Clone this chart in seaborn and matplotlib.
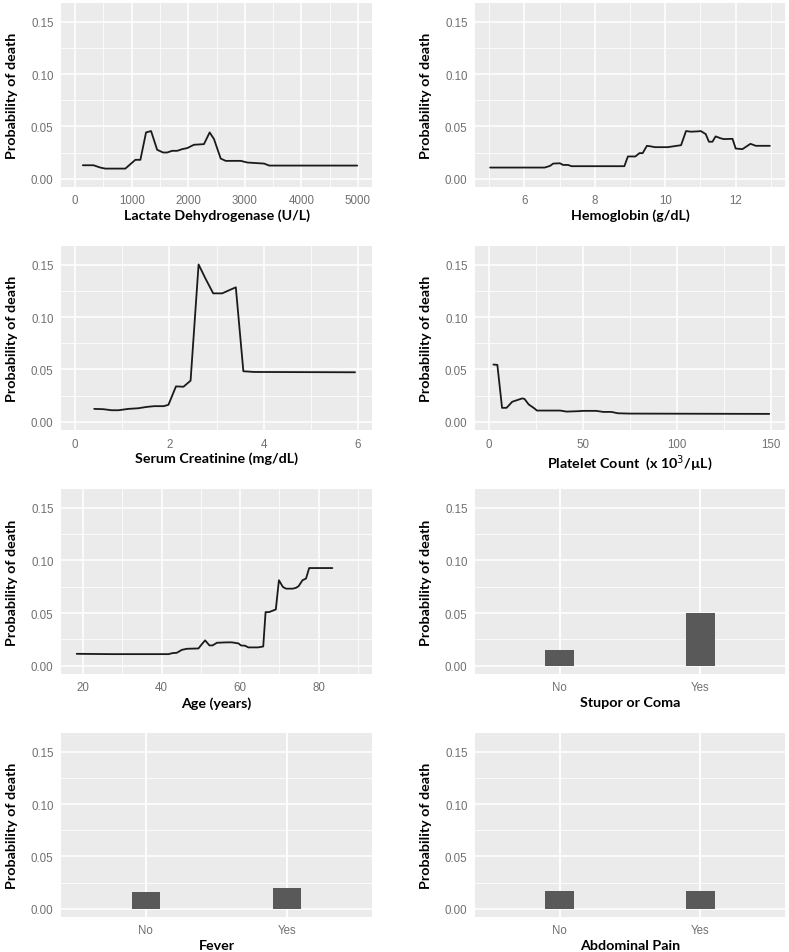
import numpy as np
import pandas as pd
import matplotlib
matplotlib.use("Agg")
import matplotlib.pyplot as plt
import seaborn as sns
from matplotlib.ticker import FixedLocator

# ---------------- data ----------------
ldh_x = [136, 325, 444, 533, 888, 976, 1065, 1154, 1254, 1343, 1450, 1556, 1627, 1716, 1805,
         1893, 1982, 2101, 2278, 2379, 2456, 2574, 2663, 2929, 3047, 3343, 3432, 4988]
ldh_y = [0.0128, 0.0128, 0.0106, 0.0096, 0.0096, 0.0138, 0.0180, 0.0180, 0.0442, 0.0455, 0.0276,
         0.0250, 0.0250, 0.0266, 0.0266, 0.0282, 0.0292, 0.0324, 0.0330, 0.0442, 0.0378, 0.0192,
         0.0170, 0.0170, 0.0154, 0.0144, 0.0125, 0.0125]

hgb_x = [5.03, 6.58, 6.73, 6.82, 7.01, 7.10, 7.24, 7.34, 8.84, 8.94, 9.15, 9.27, 9.36, 9.48, 9.60,
         9.71, 10.07, 10.45, 10.59, 10.73, 10.92, 11.01, 11.15, 11.24, 11.34, 11.43, 11.58, 11.67,
         11.91, 12.00, 12.19, 12.42, 12.57, 12.97]
hgb_y = [0.0106, 0.0106, 0.0122, 0.0144, 0.0147, 0.0131, 0.0131, 0.0119, 0.0119, 0.0212, 0.0212,
         0.0244, 0.0244, 0.0314, 0.0308, 0.0301, 0.0301, 0.0320, 0.0455, 0.0449, 0.0452, 0.0455,
         0.0426, 0.0353, 0.0353, 0.0404, 0.0385, 0.0378, 0.0381, 0.0288, 0.0282, 0.0333, 0.0314,
         0.0314]

crea_x = [0.405, 0.60, 0.775, 0.917, 1.13, 1.34, 1.52, 1.68, 1.88, 1.98, 2.14, 2.30, 2.45, 2.62,
          2.77, 2.93, 3.12, 3.41, 3.57, 3.80, 5.94]
crea_y = [0.0122, 0.0119, 0.0109, 0.0109, 0.0122, 0.0128, 0.0141, 0.0148, 0.0148, 0.0161, 0.0337,
          0.0334, 0.0392, 0.1503, 0.1365, 0.1227, 0.1227, 0.1285, 0.0482, 0.0475, 0.0472]

plt_x = [2.3, 4.4, 6.9, 9.3, 12.3, 17.6, 18.8, 21.1, 23.7, 25.5, 37.8, 41.3, 47.5, 50.1, 57.1,
         60.7, 65.1, 68.6, 74.7, 149.1]
plt_y = [0.0546, 0.0543, 0.0132, 0.0132, 0.0190, 0.0222, 0.0218, 0.0164, 0.0132, 0.0106, 0.0106,
         0.0096, 0.0100, 0.0103, 0.0103, 0.0093, 0.0093, 0.0080, 0.0077, 0.0074]

age_x = [18.4, 27.0, 39.7, 41.8, 42.7, 43.9, 45.2, 46.5, 49.4, 50.3, 51.1, 52.2, 53.0, 54.1, 56.6,
         57.9, 59.6, 60.2, 61.3, 62.1, 64.6, 65.9, 66.5, 67.4, 69.1, 69.9, 70.9, 71.7, 73.4, 74.2,
         74.9, 75.9, 76.8, 77.6, 83.5]
age_y = [0.0112, 0.0109, 0.0109, 0.0109, 0.0118, 0.0122, 0.0150, 0.0160, 0.0163, 0.0205, 0.0240,
         0.0192, 0.0192, 0.0217, 0.0221, 0.0221, 0.0211, 0.0192, 0.0189, 0.0173, 0.0173, 0.0182,
         0.0509, 0.0509, 0.0534, 0.0812, 0.0748, 0.0732, 0.0732, 0.0739, 0.0755, 0.0812, 0.0828,
         0.0928, 0.0928]

categories = ["No", "Yes"]
stupor_vals = [0.0151, 0.0503]
fever_vals = [0.0160, 0.0194]
abd_vals = [0.0165, 0.0165]

y_ticks = [0.00, 0.05, 0.10, 0.15]
y_tick_labels = ["0.00", "0.05", "0.10", "0.15"]
y_label = "Probability of death"

# ---------------- style ----------------
sns.set_style("darkgrid", {"axes.facecolor": "#EBEBEB", "grid.color": "white"})
plt.rcParams["font.family"] = ["Liberation Sans", "DejaVu Sans"]

fig = plt.figure(figsize=(7.89, 9.53), dpi=100)
W, H = 789, 953

def make_ax(px_left, px_top, px_right, px_bottom):
    return fig.add_axes([px_left / W, 1 - px_bottom / H,
                         (px_right - px_left) / W, (px_bottom - px_top) / H])

col_x = [(61, 372), (475, 785)]
row_y = [(4, 188), (247, 431), (490, 675), (734, 918)]

label_font = dict(family=["Lato", "DejaVu Sans"], weight="bold", size=10.3, color="black")

def style_axis(ax, xlabel, major_x=None, minor_x=None, xlim=None, cat=False):
    ax.set_ylim(-0.008, 0.168)
    ax.set_yticks(y_ticks)
    ax.set_yticklabels(y_tick_labels)
    ax.yaxis.set_minor_locator(FixedLocator([0.025, 0.075, 0.125]))
    if cat:
        ax.set_xlim(-0.6, 1.6)
        ax.set_xticks([0, 1])
        ax.set_xticklabels(categories)
        ax.xaxis.set_minor_locator(FixedLocator([]))
    else:
        ax.set_xlim(*xlim)
        ax.set_xticks(major_x)
        ax.set_xticklabels([str(v) for v in major_x])
        ax.xaxis.set_minor_locator(FixedLocator(minor_x))
    ax.set_axisbelow(True)
    ax.xaxis.grid(True, which="major", color="white", linewidth=1.15)
    ax.yaxis.grid(True, which="major", color="white", linewidth=1.15)
    ax.xaxis.grid(not cat, which="minor", color="white", linewidth=0.55)
    ax.yaxis.grid(True, which="minor", color="white", linewidth=0.55)
    ax.tick_params(which="major", length=3.2, width=1.0, color="#333333",
                   labelsize=8.3, labelcolor="#707070", pad=2.2)
    ax.tick_params(which="minor", length=0)
    for s in ax.spines.values():
        s.set_visible(False)
    ax.set_xlabel(xlabel, fontdict=label_font)
    ax.set_ylabel(y_label, fontdict=label_font)
    ax.xaxis.set_label_coords(0.5, -0.118)
    ax.yaxis.set_label_coords(-0.138, 0.5)

line_panels = [
    (0, 0, ldh_x, ldh_y, "Lactate Dehydrogenase (U/L)", [0, 1000, 2000, 3000, 4000, 5000],
     [500, 1500, 2500, 3500, 4500], (-250, 5250)),
    (1, 0, hgb_x, hgb_y, "Hemoglobin (g/dL)", [6, 8, 10, 12], [5, 7, 9, 11, 13], (4.6, 13.4)),
    (0, 1, crea_x, crea_y, "Serum Creatinine (mg/dL)", [0, 2, 4, 6], [1, 3, 5], (-0.3, 6.3)),
    (1, 1, plt_x, plt_y, "Platelet Count  (x 10$^3$/\u00b5L)", [0, 50, 100, 150], [25, 75, 125],
     (-7.5, 157.5)),
    (0, 2, age_x, age_y, "Age (years)", [20, 40, 60, 80], [30, 50, 70, 90], (14.4, 93.6)),
]

for c, r, xs, ys, xl, mj, mn, lim in line_panels:
    ax = make_ax(col_x[c][0], row_y[r][0], col_x[c][1], row_y[r][1])
    df = pd.DataFrame({"x": xs, "y": ys})
    sns.lineplot(data=df, x="x", y="y", ax=ax, color="#1a1a1a", lw=1.3, estimator=None)
    style_axis(ax, xl, mj, mn, lim)

bar_panels = [
    (1, 2, stupor_vals, "Stupor or Coma"),
    (0, 3, fever_vals, "Fever"),
    (1, 3, abd_vals, "Abdominal Pain"),
]
for c, r, vals, xl in bar_panels:
    ax = make_ax(col_x[c][0], row_y[r][0], col_x[c][1], row_y[r][1])
    df = pd.DataFrame({"cat": categories, "val": vals})
    sns.barplot(data=df, x="cat", y="val", ax=ax, color="#595959", saturation=1,
                width=0.2, linewidth=0, errorbar=None, zorder=3)
    style_axis(ax, xl, cat=True)
    # vertical major grid lines at the category positions (ggplot style)
    for pos in ax.get_xticks():
        ax.axvline(pos, color="white", lw=1.15, zorder=0.6)

fig.savefig("out.png", dpi=100)
